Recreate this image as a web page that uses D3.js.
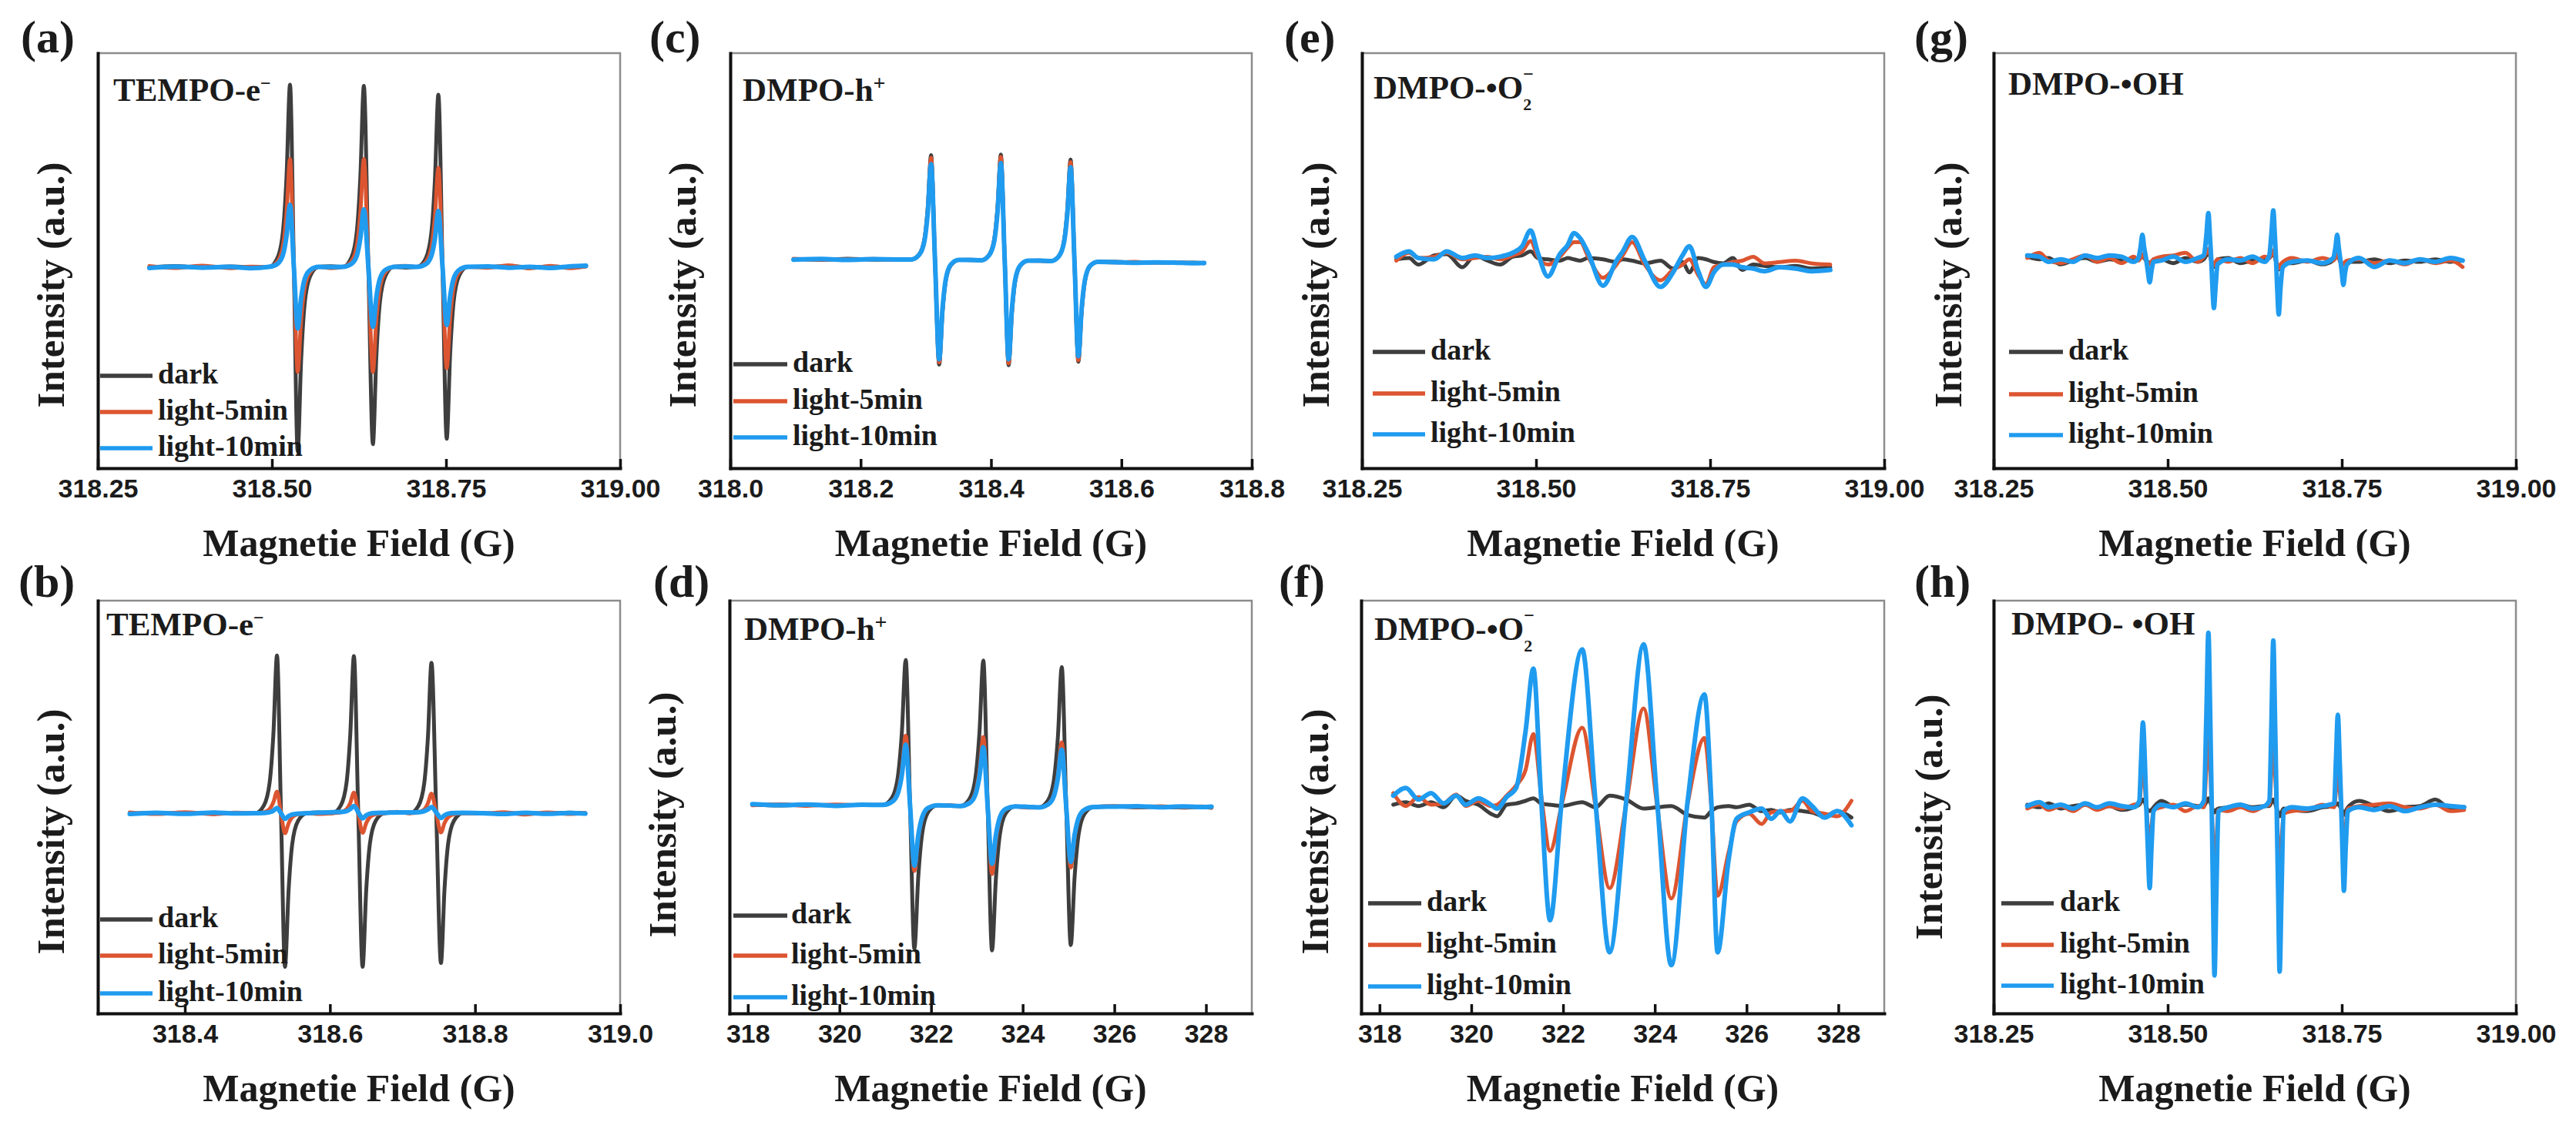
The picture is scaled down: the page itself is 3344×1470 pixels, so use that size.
<!DOCTYPE html>
<html>
<head>
<meta charset="utf-8">
<title>EPR spectra</title>
<script src="https://d3js.org/d3.v7.min.js"></script>
<style>
  html, body { margin: 0; padding: 0; background: #fff; }
  svg { display: block; }
  .serif { font-family: "Liberation Serif", "Times New Roman", Times, serif; font-weight: bold; fill: #1b1b1b; }
  .tick text { font-family: "Liberation Sans", Arial, sans-serif; font-weight: bold; font-size: 34px; fill: #1b1b1b; }
</style>
</head>
<body>
<svg id="fig" width="3344" height="1470"></svg>
<script>
// ---- data (field in G, intensity in a.u.) ----
var seriesLabels = ["dark", "light-5min", "light-10min"];

var ticksQuarter = [318.25, 318.50, 318.75, 319.00];
var ticksB = [318.4, 318.6, 318.8, 319.0];
var ticksC = [318.0, 318.2, 318.4, 318.6, 318.8];
var ticksWide = [318, 320, 322, 324, 326, 328];

// (a) TEMPO-e-
var fieldA = [318.324, 318.36, 318.40, 318.44, 318.47,
  318.496, 318.508, 318.516, 318.521, 318.526, 318.5315, 318.537, 318.542, 318.547, 318.555, 318.567,
  318.585,
  318.602, 318.614, 318.622, 318.627, 318.632, 318.6385, 318.645, 318.650, 318.655, 318.663, 318.675,
  318.692,
  318.709, 318.721, 318.729, 318.734, 318.739, 318.745, 318.751, 318.756, 318.761, 318.769, 318.781,
  318.81, 318.84, 318.87, 318.90, 318.93, 318.951];
var darkA = [-3.2, -2.6, -3.4, -2.8, -3.1,
  -3, 1.4, 14.6, 40.9, 84.8, -3, -91.8, -47.4, -20.8, -7.4, -3,
  -2.7,
  -3, 1.4, 14.4, 40.6, 84.2, -3, -88.4, -45.7, -20.1, -7.3, -3,
  -3.3,
  -3, 1.2, 13.6, 38.5, 80, -3, -85.8, -44.4, -19.6, -7.1, -3,
  -3.0, -2.6, -3.2, -2.9, -3.3, -2.8];
var light5A = [-2.6, -3.5, -2.4, -3.6, -2.9,
  -3, -0.4, 7.4, 23, 49, -3, -53.6, -28.3, -13.1, -5.5, -3,
  -3.6,
  -3, -0.4, 7.4, 23, 49, -3, -53.6, -28.3, -13.1, -5.5, -3,
  -2.5,
  -3, -0.6, 6.5, 20.9, 44.7, -3, -51.8, -27.4, -12.8, -5.4, -3,
  -3.4, -2.2, -3.7, -2.5, -3.6, -2.6];
var light10A = [-3.5, -2.9, -3.3, -3.0, -3.6,
  -3, -1.5, 3.0, 12, 26.9, -3, -32.7, -17.9, -8.9, -4.5, -3,
  -3.1,
  -3, -1.6, 2.5, 10.9, 24.7, -3, -31.8, -17.4, -8.8, -4.4, -3,
  -2.8,
  -3, -1.7, 2.4, 10.5, 23.9, -3, -31, -17, -8.6, -4.4, -3,
  -2.8, -3.4, -3.0, -3.5, -2.7, -2.4];

// (b) TEMPO-e-
var fieldB = [318.324, 318.36, 318.40, 318.44, 318.47,
  318.497, 318.509, 318.517, 318.522, 318.527, 318.5325, 318.538, 318.543, 318.548, 318.556, 318.568,
  318.585,
  318.603, 318.615, 318.623, 318.628, 318.633, 318.639, 318.645, 318.650, 318.655, 318.663, 318.675,
  318.692,
  318.710, 318.722, 318.730, 318.735, 318.740, 318.7465, 318.753, 318.758, 318.763, 318.771, 318.783,
  318.81, 318.84, 318.87, 318.90, 318.93, 318.952];
var darkB = [-3.3, -2.8, -3.2, -2.7, -3.0,
  -3, 0.8, 12.3, 35.2, 73.4, -3, -77.4, -40.2, -17.9, -6.7, -3,
  -2.6,
  -3, 0.8, 12.2, 35.1, 73.1, -3, -77.4, -40.2, -17.9, -6.7, -3,
  -2.5,
  -3, 0.6, 11.6, 33.5, 69.9, -3, -75.6, -39.3, -17.5, -6.6, -3,
  -2.9, -3.3, -2.8, -3.1, -2.7, -3.0];
var light5B = [-2.6, -3.4, -2.5, -3.5, -2.7,
  -3, -2.5, -0.9, 2.3, 7.5, -3, -12.7, -7.9, -4.9, -3.5, -3,
  -3.4,
  -3, -2.5, -1, 2, 7, -3, -12.5, -7.8, -4.9, -3.5, -3,
  -2.3,
  -3, -2.5, -1.1, 1.8, 6.5, -3, -12.3, -7.7, -4.9, -3.5, -3,
  -3.2, -2.5, -3.6, -2.6, -3.4, -2.9];
var light10B = [-3.4, -2.8, -3.3, -2.7, -3.1,
  -3, -2.9, -2.5, -1.8, -0.5, -3, -5.7, -4.4, -3.6, -3.2, -3,
  -2.7,
  -2.5, -2.4, -2, -1, 0.5, -2.5, -5.5, -4, -3.2, -2.9, -2.8,
  -2.6,
  -2.6, -2.5, -2, -1.2, 0, -2.6, -5.3, -4, -3.2, -2.9, -2.8,
  -3.0, -3.4, -2.8, -3.3, -2.9, -3.2];

// (c) DMPO-h+
var fieldC = [318.097, 318.14, 318.18, 318.22, 318.255,
  318.278, 318.290, 318.298, 318.303, 318.308, 318.314, 318.3205, 318.3255, 318.3305, 318.3385, 318.3505,
  318.367,
  318.385, 318.397, 318.405, 318.410, 318.415, 318.421, 318.427, 318.432, 318.437, 318.445, 318.457,
  318.475,
  318.492, 318.504, 318.512, 318.517, 318.522, 318.528, 318.534, 318.539, 318.544, 318.552, 318.564,
  318.59, 318.62, 318.65, 318.68, 318.71, 318.727];
var darkC = [0.7, 0.4, 0.9, 0.5, 0.7,
  0.6, 3.1, 10.6, 25.7, 50.8, 0.5, -50.1, -24.9, -9.7, -2.1, 0.4,
  0.3,
  0.2, 2.7, 10.4, 25.7, 51.1, 0.1, -50.4, -25.1, -10, -2.4, 0,
  0.1,
  -0.2, 2.2, 9.6, 24.3, 48.7, -0.3, -48.7, -24.5, -9.9, -2.6, -0.6,
  -0.6, -0.9, -0.7, -1.1, -0.9, -1.2];
var light5C = [0.9, 0.5, 0.6, 0.8, 0.4,
  0.6, 3.1, 10.4, 25.1, 49.5, 0.5, -49, -24.3, -9.5, -2.0, 0.4,
  0.5,
  0.2, 2.7, 10.2, 25.1, 50, 0.1, -49.5, -24.6, -9.8, -2.3, 0,
  -0.1,
  -0.2, 2.2, 9.3, 23.7, 47.5, -0.3, -48, -24.1, -9.8, -2.6, -0.6,
  -0.8, -0.6, -1.0, -0.8, -1.1, -1.0];
var light10C = [0.5, 0.8, 0.4, 0.7, 0.6,
  0.6, 2.9, 9.8, 23.5, 46.5, 0.5, -47.5, -23.5, -9.1, -1.8, 0.4,
  0.4,
  0.2, 2.6, 9.6, 23.6, 47, 0.1, -47.5, -23.6, -9.3, -2.2, 0,
  0.0,
  -0.2, 2.1, 8.9, 22.4, 45, -0.3, -46, -23.1, -9.4, -2.5, -0.6,
  -0.7, -1.0, -0.8, -0.9, -1.2, -1.1];

// (d) DMPO-h+
var fieldD = [318.098, 318.7, 319.3, 319.9, 320.5,
  320.947, 321.147, 321.277, 321.362, 321.447, 321.541, 321.635, 321.72, 321.805, 321.935, 322.135,
  322.4,
  322.64, 322.84, 322.97, 323.055, 323.14, 323.235, 323.33, 323.415, 323.5, 323.63, 323.83,
  324.1,
  324.352, 324.552, 324.682, 324.767, 324.852, 324.95, 325.049, 325.134, 325.219, 325.349, 325.549,
  326.0, 326.5, 327.0, 327.5, 327.9, 328.12];
var darkD = [1.2, 0.7, 1.1, 0.8, 1.0,
  1, 4.5, 15.1, 36.2, 71.3, 0.8, -68.7, -33.9, -12.9, -2.5, 0.8,
  0.6,
  0.5, 4, 14.6, 35.8, 71, 0.4, -69.5, -34.5, -13.5, -3, 0.3,
  0,
  -0.2, 3.2, 13.4, 33.7, 67.8, -0.1, -66.9, -33.5, -13.4, -3.3, 0,
  0.3, -0.2, 0.2, -0.3, 0.1, -0.4];
var light5D = [0.8, 1.3, 0.6, 1.2, 0.9,
  1, 2.7, 7.7, 17.8, 34.6, 0.8, -31, -15, -5.4, -0.6, 0.8,
  0.9,
  0.5, 2.2, 7.2, 17.3, 34, 0.4, -32.5, -16, -6.1, -1.1, 0.3,
  -0.3,
  -0.2, 1.4, 6.1, 15.5, 31.3, -0.1, -29.3, -14.6, -5.9, -1.5, 0,
  0.5, 0.0, 0.4, -0.1, 0.3, -0.2];
var light10D = [1.4, 0.9, 1.2, 0.6, 1.1,
  1, 2.5, 6.8, 15.6, 30.2, 0.8, -28.4, -13.7, -4.9, -0.4, 0.8,
  0.7,
  0.5, 1.9, 6.2, 14.7, 29, 0.4, -27.5, -13.5, -5.1, -0.9, 0.3,
  0.1,
  -0.2, 1.2, 5.4, 13.9, 27.8, -0.1, -26.6, -13.3, -5.3, -1.3, 0,
  0.2, 0.4, -0.1, 0.3, 0.0, 0.2];

// (e) DMPO-O2-
var fieldE = [318.2994, 318.3175, 318.3310, 318.3536, 318.3717, 318.3942, 318.4123, 318.4304, 318.4484, 318.4665,
  318.4800, 318.4922, 318.5026, 318.5170, 318.5342, 318.5455, 318.5545, 318.5635, 318.5748, 318.5961,
  318.6155, 318.6245, 318.6380, 318.6561, 318.6787, 318.6967, 318.7103, 318.7202, 318.7329, 318.7441,
  318.7554, 318.7690, 318.7825, 318.7961, 318.8119, 318.8277, 318.8503, 318.8728, 318.8954, 318.9225];
var darkE = [0.5, 1.0, -1.5, 2.0, 2.5, -2.5, 2.0, 0.0, -1.5, 1.5,
  2.0, 3.5, 1.0, 0.5, 0.0, 1.0, 0.5, 0.0, 1.0, 0.5,
  -0.5, 0.5, 0.0, -1.0, 0.0, -3.0, -0.5, -4.5, 1.0, 0.5,
  -0.5, -1.0, 1.0, -3.5, -1.5, -2.0, -2.5, -2.0, -3.0, -2.5];
var light5E = [0.0, 3.0, 1.0, 1.5, 3.0, 0.5, 1.0, 1.5, 0.5, 2.0,
  3.5, 7.5, 1.5, -1.5, 1.5, 5.0, 7.0, 7.0, 1.5, -6.5,
  -1.5, 2.0, 7.0, -1.5, -7.5, -3.5, -1.5, 0.5, -5.5, -9.0,
  -2.5, -1.5, -0.5, 0.0, 1.5, -1.0, -0.5, 0.0, -1.0, -1.5];
var light10E = [1.5, 3.5, 1.0, 0.5, 3.5, 1.0, 2.0, 1.0, 1.5, 3.0,
  5.5, 11.5, 3.0, -6.0, 2.5, 6.0, 10.5, 8.5, 3.0, -9.5,
  0.0, 3.5, 9.0, 0.0, -10.0, -4.5, 2.0, 5.5, -4.0, -10.0,
  -4.5, -1.5, -1.5, -2.5, -3.0, -4.0, -2.5, -3.0, -4.0, -3.5];

// (f) DMPO-O2-
var fieldF = [318.299, 318.574, 318.848, 319.123, 319.397, 319.672, 319.877, 320.152, 320.427, 320.564,
  320.770, 320.976, 321.182, 321.353, 321.525, 321.717, 321.971, 322.417, 322.705, 323.014,
  323.378, 323.755, 324.050, 324.359, 324.716, 325.080, 325.231, 325.368, 325.608, 325.780,
  326.054, 326.329, 326.535, 326.740, 326.946, 327.221, 327.427, 327.701, 327.976, 328.285];
var darkF = [0.5, 1.5, 0.0, 1.5, -0.5, 4.0, 2.0, 0.5, -3.0, -4.0,
  0.5, 1.0, 2.0, 3.0, 1.0, 0.5, 0.0, 1.5, -0.5, 4.0,
  2.5, -1.0, -0.5, 0.0, -3.5, -4.5, -2.0, -0.5, 0.0, -0.5,
  0.5, -2.0, -1.5, -2.5, -1.5, -2.0, -2.5, -4.0, -2.0, -4.5];
var light5F = [5.0, 0.0, 3.5, 0.5, 1.0, 4.5, 0.0, 2.0, 0.0, 0.5,
  4.0, 8.0, 14.0, 28.0, 4.0, -17.5, 0.5, 30.5, 0.0, -32.0,
  1.0, 38.0, 0.0, -36.0, 1.0, 26.5, 0.0, -35.0, -18.0, -6.0,
  -3.0, -7.0, -2.5, -2.0, -2.0, 2.0, -2.0, -3.0, -4.0, 2.0];
var light10F = [4.0, 7.0, 2.5, 5.0, 1.0, 4.0, 0.5, 3.0, 0.5, -1.0,
  3.5, 7.0, 29.0, 53.5, 2.0, -44.5, 2.0, 61.0, 2.0, -57.0,
  2.0, 63.0, 2.0, -62.0, 2.0, 43.5, 2.0, -57.0, -21.0, -5.0,
  -2.5, -1.0, -5.0, -2.0, -6.0, 3.0, 0.0, -4.5, -2.0, -7.5];

// (g) DMPO-OH
var fieldG = [318.2983, 318.3158, 318.3289, 318.3464, 318.3639, 318.3814, 318.3988, 318.4163, 318.4338, 318.4513,
  318.4579, 318.4609, 318.4636, 318.4662, 318.4688, 318.4714, 318.4741, 318.4767, 318.4797, 318.4907,
  318.5081, 318.5256, 318.5431, 318.5519, 318.5554, 318.5584, 318.5606, 318.5624, 318.5641, 318.5663,
  318.5689, 318.5715, 318.5868, 318.6043, 318.6218, 318.6393, 318.6459, 318.6489, 318.6516, 318.6537,
  318.6555, 318.6572, 318.6594, 318.6620, 318.6655, 318.6787, 318.7005, 318.7224, 318.7377, 318.7408,
  318.7434, 318.7456, 318.7478, 318.7500, 318.7522, 318.7548, 318.7574, 318.7749, 318.7967, 318.8186,
  318.8405, 318.8623, 318.8842, 318.9060, 318.9235];
var darkG = [0.5, -0.5, 0.0, -2.5, -1.0, 0.0, -1.5, -0.5, -1.0, -0.5,
  -0.5, 0.0, 1.0, 0.0, -1.0, -1.5, -2.0, -1.5, -0.5, -0.5,
  -2.0, 0.0, -1.5, -0.5, 1.0, 2.5, 1.0, -1.0, -2.5, -3.5,
  -2.0, -0.5, 0.0, -2.0, -1.0, -0.5, 0.0, 1.0, 2.0, 0.5,
  -1.5, -3.0, -4.5, -3.0, -2.0, -2.0, -1.0, -2.5, -1.0, 0.0,
  1.0, 0.0, -1.5, -2.0, -2.5, -2.0, -1.5, -1.5, -0.5, -2.0,
  -1.0, -1.5, -0.5, -1.5, -1.0];
var light5G = [0.0, 2.0, -1.0, -2.0, -0.5, 1.0, -1.5, 0.0, -2.0, 0.5,
  -1.0, 0.0, 1.5, 0.5, -1.0, -2.0, -2.5, -1.5, -0.5, 0.5,
  1.0, 2.0, -1.5, 0.5, 2.0, 3.5, 1.5, -0.5, -2.0, -3.0,
  -1.5, -0.5, -1.5, 0.0, -2.0, 0.5, 0.0, 1.5, 3.0, 1.0,
  -1.0, -2.5, -4.0, -2.5, -1.5, 0.0, -1.5, 0.0, -1.0, 0.5,
  1.5, 0.0, -1.5, -2.0, -2.5, -1.5, -1.0, -0.5, -2.0, -1.0,
  -2.5, -0.5, -2.0, -1.0, -3.5];
var light10G = [1.0, 0.5, -1.5, -0.5, -1.5, 1.0, 0.0, 1.0, 0.5, -1.5,
  0.0, 4.0, 9.0, 4.0, 0.0, -5.0, -9.5, -5.0, -1.5, -1.0,
  0.5, -1.5, 0.0, 1.0, 8.5, 17.5, 8.5, 0.0, -10.5, -19.5,
  -10.5, -2.5, -0.5, -1.0, 0.5, -1.5, 1.0, 9.5, 18.5, 9.5,
  -0.5, -11.5, -22.0, -11.5, -3.5, -1.5, -1.0, -2.0, 0.0, 4.0,
  9.0, 4.0, -0.5, -5.5, -10.5, -5.5, -2.5, 0.0, -3.5, -1.0,
  -2.0, -0.5, -1.5, 0.0, -1.0];

// (h) DMPO- OH
var fieldH = [318.2983, 318.3158, 318.3289, 318.3464, 318.3639, 318.3814, 318.3988, 318.4163, 318.4338, 318.4513,
  318.4592, 318.4618, 318.4644, 318.4671, 318.4692, 318.4714, 318.4741, 318.4767, 318.4797, 318.4907,
  318.5081, 318.5256, 318.5431, 318.5519, 318.5554, 318.5584, 318.5611, 318.5632, 318.5650, 318.5672,
  318.5698, 318.5729, 318.5868, 318.6043, 318.6218, 318.6393, 318.6459, 318.6489, 318.6516, 318.6542,
  318.6564, 318.6586, 318.6607, 318.6634, 318.6664, 318.6787, 318.7005, 318.7224, 318.7390, 318.7416,
  318.7443, 318.7469, 318.7491, 318.7508, 318.7530, 318.7556, 318.7587, 318.7749, 318.7967, 318.8186,
  318.8405, 318.8623, 318.8842, 318.9060, 318.9257];
var darkH = [0.5, -0.5, 1.0, -1.0, 0.0, 0.5, -1.0, 0.0, -1.5, -0.5,
  0.5, 1.5, 2.5, 1.5, -0.5, -1.5, -2.0, -1.5, -0.5, 2.0,
  0.0, 0.5, 0.0, 0.0, 1.5, 3.0, 1.5, -0.5, -1.5, -2.5,
  -1.5, -1.0, -0.5, 0.5, -0.5, 0.0, 0.0, 1.5, 2.5, 1.0,
  -1.0, -2.5, -4.0, -2.5, -1.0, -1.5, -2.0, -0.5, 0.0, 0.5,
  1.0, 0.0, -1.0, -2.0, -3.5, -2.0, -0.5, 2.0, 0.0, -2.0,
  -0.5, 0.0, 2.5, -1.0, -0.5];
var light5H = [-1.0, 0.5, -1.5, 0.0, -2.0, 0.5, -1.5, 0.0, -1.0, 0.5,
  1.0, 8.0, 14.0, 8.0, -0.5, -8.0, -14.0, -8.0, -1.5, -0.5,
  0.5, -2.0, 0.0, -0.5, 14.0, 26.0, 14.0, -0.5, -14.0, -26.0,
  -14.0, -1.5, -2.0, -0.5, -2.0, 0.0, 0.5, 13.0, 24.0, 13.0,
  -0.5, -14.0, -25.0, -14.0, -3.0, -2.0, -1.5, 0.5, -0.5, 6.0,
  12.0, 6.0, -0.5, -8.0, -16.0, -8.0, -1.0, 0.0, 0.5, 1.0,
  -0.5, -1.0, 0.5, -2.0, -1.5];
var light10H = [0.0, 1.5, -0.5, 0.5, -1.0, 1.0, -0.5, 1.0, 0.0, -0.5,
  2.0, 18.0, 32.5, 18.0, 0.0, -16.0, -32.0, -16.0, -2.0, 0.5,
  -0.5, 1.0, -0.5, 2.0, 34.0, 67.5, 34.0, 0.0, -34.0, -66.0,
  -34.0, -2.0, -0.5, 0.5, -1.0, 0.0, 2.0, 32.0, 64.5, 32.0,
  0.0, -34.0, -64.5, -34.0, -2.0, -0.5, -1.0, 0.0, 1.0, 18.0,
  35.5, 18.0, 0.0, -16.0, -33.0, -16.0, -2.0, -0.5, -1.5, 0.0,
  -2.0, -0.5, 0.5, 0.0, -0.5];

// ---- panels ----
var noteTempo = [["TEMPO-e"], ["\u2212", "sup"]];
var noteHole = [["DMPO-h"], ["+", "supPlus"]];
var noteSuperoxide = [["DMPO-\u2022O"], ["2", "sub"], ["\u2212", "supOverSub"]];

var panels = [
  {key: "a", field: fieldA, series: [darkA, light5A, light10A], xDomain: [318.25, 319.0], yDomain: [-100, 100], ticks: ticksQuarter, fmt: ".2f", note: noteTempo},
  {key: "c", field: fieldC, series: [darkC, light5C, light10C], xDomain: [318.0, 318.8], yDomain: [-100, 100], ticks: ticksC, fmt: ".1f", note: noteHole},
  {key: "e", field: fieldE, series: [darkE, light5E, light10E], xDomain: [318.25, 319.0], yDomain: [-79, 79], ticks: ticksQuarter, fmt: ".2f", note: noteSuperoxide},
  {key: "g", field: fieldG, series: [darkG, light5G, light10G], xDomain: [318.25, 319.0], yDomain: [-81.9, 79.8], ticks: ticksQuarter, fmt: ".2f", note: [["DMPO-\u2022OH"]]},
  {key: "b", field: fieldB, series: [darkB, light5B, light10B], xDomain: [318.28, 319.0], yDomain: [-100, 100], ticks: ticksB, fmt: ".1f", note: noteTempo},
  {key: "d", field: fieldD, series: [darkD, light5D, light10D], xDomain: [317.6, 329.0], yDomain: [-100, 100], ticks: ticksWide, fmt: "d", note: noteHole},
  {key: "f", field: fieldF, series: [darkF, light5F, light10F], xDomain: [317.6, 329.0], yDomain: [-80.8, 80], ticks: ticksWide, fmt: "d", note: noteSuperoxide},
  {key: "h", field: fieldH, series: [darkH, light5H, light10H], xDomain: [318.25, 319.0], yDomain: [-80.8, 80], ticks: ticksQuarter, fmt: ".2f", note: [["DMPO- \u2022OH"]]}
];

// layout in page pixels
var layout = {
  a: {x0: 127, x1: 805, y0: 69, y1: 608, tag: [27, 68], note: [147, 131], leg: [130, 198, 205, [498, 545, 592]], yl: [70, 370]},
  c: {x0: 948, x1: 1625, y0: 69, y1: 608, tag: [843, 68], note: [964, 131], leg: [952, 1022, 1029, [483, 531, 578]], yl: [890, 370]},
  e: {x0: 1768, x1: 2446, y0: 69, y1: 608, tag: [1667, 68], note: [1783, 128], leg: [1782, 1850, 1857, [467, 521, 574]], yl: [1712, 370]},
  g: {x0: 2588, x1: 3266, y0: 69, y1: 608, tag: [2485, 68], note: [2607, 123], leg: [2608, 2678, 2685, [467, 522, 575]], yl: [2533, 370]},
  b: {x0: 127, x1: 805, y0: 780, y1: 1316, tag: [24, 775], note: [138, 825], leg: [130, 198, 205, [1204, 1251, 1300]], yl: [70, 1080]},
  d: {x0: 947, x1: 1625, y0: 780, y1: 1316, tag: [848, 775], note: [966, 831], leg: [952, 1022, 1027, [1199, 1251, 1305]], yl: [864, 1058]},
  f: {x0: 1767, x1: 2446, y0: 780, y1: 1316, tag: [1660, 775], note: [1784, 831], leg: [1776, 1845, 1852, [1183, 1237, 1291]], yl: [1711, 1080]},
  h: {x0: 2588, x1: 3266, y0: 780, y1: 1316, tag: [2485, 775], note: [2611, 824], leg: [2598, 2666, 2674, [1183, 1237, 1290]], yl: [2508, 1061]}
};

var colors = ["#3e3e3e", "#dc5530", "#1f9bef"];
var strokeW = [5, 5, 6];

var svg = d3.select("#fig");

panels.forEach(function(p) {
  var L = layout[p.key];
  var x = d3.scaleLinear().domain(p.xDomain).range([L.x0, L.x1]);
  var y = d3.scaleLinear().domain(p.yDomain).range([L.y1, L.y0]);
  var g = svg.append("g").attr("class", "panel panel-" + p.key);

  // thin grey frame (top / right)
  g.append("rect")
    .attr("x", L.x0).attr("y", L.y0)
    .attr("width", L.x1 - L.x0).attr("height", L.y1 - L.y0)
    .attr("fill", "none").attr("stroke", "#8c8c8c").attr("stroke-width", 2.5);

  var line = d3.line()
    .curve(d3.curveMonotoneX)
    .x(function(d) { return x(d[0]); })
    .y(function(d) { return y(d[1]); });

  p.series.forEach(function(vals, k) {
    g.append("path")
      .datum(d3.zip(p.field, vals))
      .attr("d", line)
      .attr("fill", "none")
      .attr("stroke", colors[k])
      .attr("stroke-width", strokeW[k])
      .attr("stroke-linejoin", "round")
      .attr("stroke-linecap", "round");
  });

  // axes
  var xa = g.append("g")
    .attr("transform", "translate(0," + L.y1 + ")")
    .call(d3.axisBottom(x).tickValues(p.ticks).tickFormat(d3.format(p.fmt))
      .tickSizeInner(-12).tickSizeOuter(0).tickPadding(14));
  xa.attr("font-size", null).attr("font-family", null);
  xa.select(".domain").attr("stroke", "#111").attr("stroke-width", 4).attr("stroke-linecap", "square");
  xa.selectAll(".tick line").attr("stroke", "#111").attr("stroke-width", 3.5);

  var ya = g.append("g")
    .attr("transform", "translate(" + L.x0 + ",0)")
    .call(d3.axisLeft(y).tickValues([]).tickSizeOuter(0));
  ya.select(".domain").attr("stroke", "#111").attr("stroke-width", 4).attr("stroke-linecap", "square");

  // titles
  g.append("text").attr("class", "serif")
    .attr("x", (L.x0 + L.x1) / 2).attr("y", L.y1 + 114)
    .attr("text-anchor", "middle").attr("font-size", 50)
    .text("Magnetie Field (G)");

  g.append("text").attr("class", "serif")
    .attr("transform", "translate(" + L.yl[0] + "," + L.yl[1] + ") rotate(-90)")
    .attr("text-anchor", "middle").attr("dy", "0.26em").attr("font-size", 51)
    .text("Intensity (a.u.)");

  g.append("text").attr("class", "serif")
    .attr("x", L.tag[0]).attr("y", L.tag[1]).attr("font-size", 60)
    .text("(" + p.key + ")");

  // species label
  var t = g.append("text").attr("class", "serif")
    .attr("x", L.note[0]).attr("y", L.note[1]).attr("font-size", 43);
  p.note.forEach(function(part) {
    var s = t.append("tspan").text(part[0]);
    if (part[1] === "sup") s.attr("font-size", 24).attr("dy", -15);
    if (part[1] === "supPlus") s.attr("font-size", 28).attr("dy", -14);
    if (part[1] === "sub") s.attr("font-size", 22).attr("dy", 15);
    if (part[1] === "supOverSub") s.attr("font-size", 24).attr("dx", -11).attr("dy", -39);
  });

  // legend
  seriesLabels.forEach(function(name, k) {
    var yy = L.leg[3][k];
    g.append("line")
      .attr("x1", L.leg[0]).attr("x2", L.leg[1])
      .attr("y1", yy - 10).attr("y2", yy - 10)
      .attr("stroke", colors[k]).attr("stroke-width", 5.5);
    g.append("text").attr("class", "serif")
      .attr("x", L.leg[2]).attr("y", yy).attr("font-size", 38)
      .text(name);
  });
});
</script>
</body>
</html>
